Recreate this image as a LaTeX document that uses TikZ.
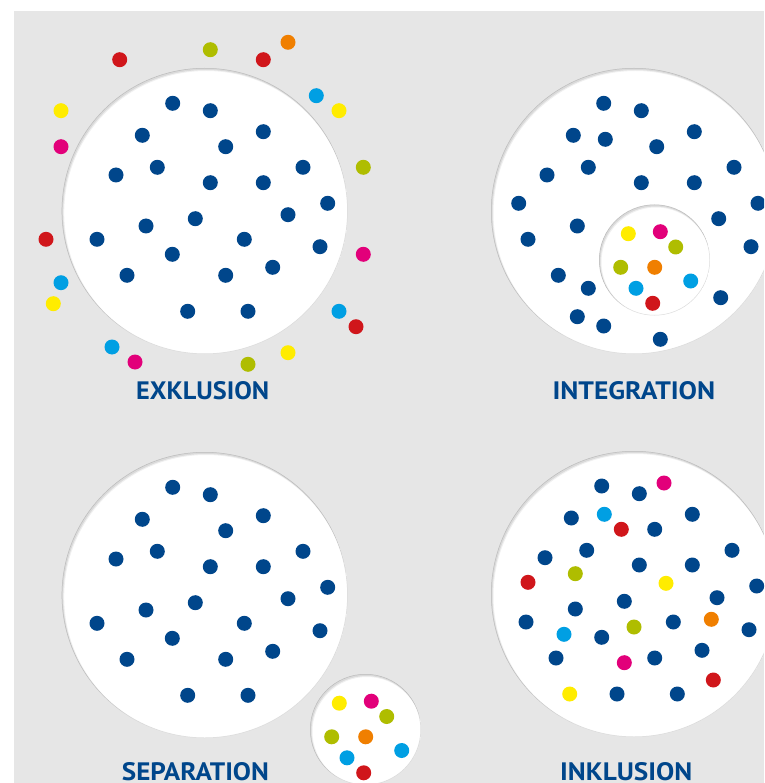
\documentclass[tikz,border=0pt]{standalone}
\usepackage{fontspec}
\setmainfont{PT Sans}
\usepackage{graphicx}
\definecolor{bgg}{HTML}{E6E6E6}
\definecolor{dblue}{HTML}{00468B}
\definecolor{cred}{HTML}{D0161B}
\definecolor{cgreen}{HTML}{AFBD00}
\definecolor{corange}{HTML}{F07F00}
\definecolor{cyellow}{HTML}{FFEC00}
\definecolor{cmag}{HTML}{E2007A}
\definecolor{ccyan}{HTML}{009FE3}
\newcommand\holecirc[3]{%
  \begin{scope}
    \fill[white] (#1,#2) circle (#3pt);
    \clip (#1,#2) circle (#3pt);
    \draw[black,opacity=0.06,line width=8pt] (#1+1.5,#2+2) circle (#3pt+3pt);
    \draw[black,opacity=0.09,line width=3pt] (#1+1,#2+1.5) circle (#3pt+1pt);
    \draw[black,opacity=0.14,line width=1pt] (#1,#2) circle (#3pt);
  \end{scope}}
\tikzset{
  lab/.style={inner sep=0pt,text=dblue,font=\bfseries,anchor=base west},
  dotr/.style={radius=7.5pt}
}
\begin{document}
\begin{tikzpicture}[x=1pt,y=-1pt]
\useasboundingbox (0,0) rectangle (764,783);
\clip (0,0) rectangle (764,783);
\fill[bgg] (13.5,11) rectangle (764,783);

% ---- circles
\holecirc{204.7}{211}{143}
\holecirc{634}{211}{143}
\holecirc{654.5}{260}{55.5}
\holecirc{204.7}{595}{143}
\holecirc{365.5}{729.5}{55.5}
\holecirc{634}{594}{143}

% ---- EXKLUSION blue dots (pattern reused for SEPARATION)
\foreach \s in {0,384}{
\begin{scope}[shift={(0,\s)}]
\foreach \x/\y in {172.7/103.3, 210.3/110.7, 142.3/135.3, 263.3/131.7, 225.7/146.7,
  116/175, 157.3/167.3, 210.3/182.7, 263.3/182.7, 303/167.3, 327.7/203.3,
  288/214.7, 195.3/218.7, 146/226, 97/239.3, 244.3/239.3, 320/246.7,
  172.3/254.3, 127/275.3, 225.7/275.3, 272.7/267.3, 187.7/311.3, 248/311.3}
  \fill[dblue] (\x,\y) circle[dotr];
\end{scope}}

% ---- EXKLUSION coloured dots outside
\foreach \x/\y/\c in {119.7/59.7/cred, 210.3/49.7/cgreen, 263.3/59.7/cred, 288/42.3/corange,
  61/110.7/cyellow, 61/146.7/cmag, 316.3/95.7/ccyan, 339/110.7/cyellow,
  363.3/167.3/cgreen, 46/239.3/cred, 363.3/254.3/cmag, 61/282.7/ccyan,
  53.3/303.7/cyellow, 339/311.3/ccyan, 356/326.7/cred, 112/347/ccyan,
  135/362/cmag, 248/364.3/cgreen, 288/352.7/cyellow}
  \fill[\c] (\x,\y) circle[dotr];

% ---- INTEGRATION blue dots
\foreach \x/\y in {603.7/103.3, 641.3/110.7, 573.3/135.3, 605.3/139.3, 656.7/146.7,
  694.3/131.7, 547/175, 588.3/167.3, 641.3/182.7, 694.3/182.7, 734/167.3,
  518.7/203.3, 758/203.3, 718.7/218.7, 577.3/226, 528/239.3, 751/246.7,
  558.3/275.3, 588.3/288.3, 720.7/297.7, 577.3/316.7, 603.7/326, 660.3/339.3}
  \fill[dblue] (\x,\y) circle[dotr];

% ---- coloured group (INTEGRATION inner circle and SEPARATION small circle)
\foreach \sx/\sy in {0/0, -289/469.5}{
\begin{scope}[shift={(\sx,\sy)}]
\foreach \x/\y/\c in {628.3/233.7/cyellow, 660.3/231.7/cmag, 675.7/247/cgreen,
  620.7/267.3/cgreen, 654.7/267.3/corange, 690.7/281/ccyan, 636/288.3/ccyan,
  652.7/303.3/cred}
  \fill[\c] (\x,\y) circle[dotr];
\end{scope}}

% ---- INKLUSION dots
\foreach \x/\y/\c in {601.7/486/dblue, 639.3/493.7/dblue, 664/483/cmag,
  571.3/518/dblue, 604.3/514.3/ccyan, 621.3/529.3/cred, 654.7/529.3/dblue,
  692.3/514.3/dblue, 545/557.7/dblue, 586.7/550.3/dblue, 575.3/573.7/cgreen,
  528/582.3/cred, 639.3/565/dblue, 692.3/565/dblue, 666/583.3/cyellow,
  732/550.3/dblue, 756.7/586/dblue, 717/597.7/dblue, 624.3/601.3/dblue,
  575.3/609/dblue, 526/622/dblue, 564/634.3/ccyan, 601.7/637.3/dblue,
  634/627/cgreen, 673.3/622/dblue, 711.3/619.3/corange, 749/629.7/dblue,
  556/658/dblue, 624.3/662.7/cmag, 654.7/658/dblue, 702/650.3/dblue,
  713.3/680/cred, 569.7/694/cyellow, 617/694/dblue, 677.3/694/dblue}
  \fill[\c] (\x,\y) circle[dotr];

% ---- labels
\node[lab] (exk) at (136,399) {\resizebox{133pt}{18pt}{EXKLUSION}};
\node[lab] (int) at (552.3,399) {\resizebox{162.7pt}{18pt}{INTEGRATION}};
\node[lab] (sep) at (121.7,780.3) {\resizebox{147pt}{18pt}{SEPARATION}};
\node[lab] (ink) at (560,780.3) {\resizebox{132pt}{18pt}{INKLUSION}};
\end{tikzpicture}
\end{document}
